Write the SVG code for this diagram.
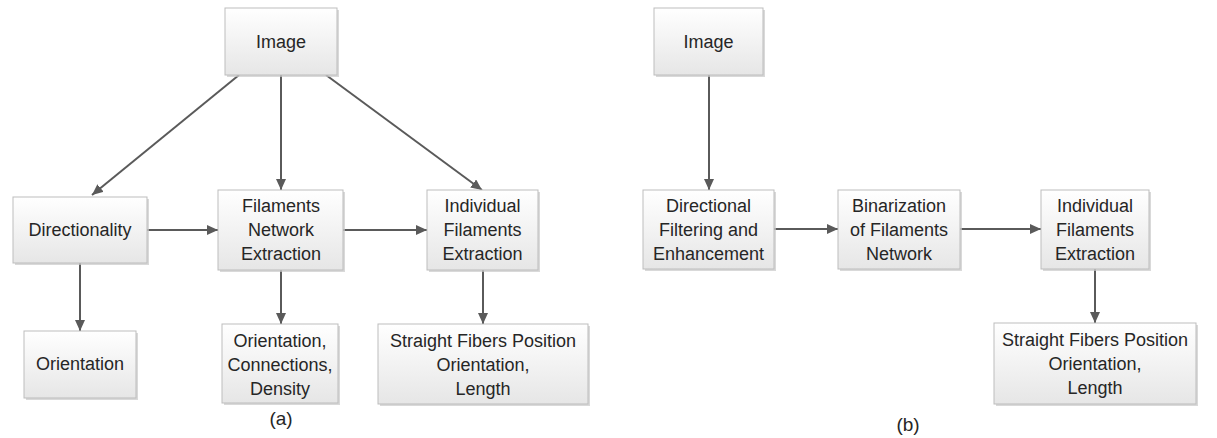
<svg xmlns="http://www.w3.org/2000/svg" width="1217" height="438" viewBox="0 0 1217 438">
<style>
.box{fill:url(#g);stroke:#bdbdbd;stroke-width:1}
.sh{fill:#c9c9c9;opacity:0.7}
.t{font-family:"Liberation Sans",Arial,sans-serif;font-size:18px;fill:#262626;text-anchor:middle}
.lbl{font-family:"Liberation Sans",Arial,sans-serif;font-size:19px;fill:#262626;text-anchor:middle}
.c{stroke:#5a5a5a;stroke-width:2;fill:none;marker-end:url(#ah)}
</style>
<defs>
<linearGradient id="g" x1="0" y1="0" x2="0" y2="1">
<stop offset="0" stop-color="#ffffff"/>
<stop offset="1" stop-color="#e6e6e6"/>
</linearGradient>
<marker id="ah" markerUnits="userSpaceOnUse" markerWidth="12" markerHeight="10" refX="11" refY="5" orient="auto">
<path d="M0,0 L11,5 L0,10 z" fill="#5a5a5a"/>
</marker>
</defs>
<rect width="1217" height="438" fill="#ffffff"/>
<g id="connectors">
<line class="c" x1="239" y1="75" x2="92" y2="195"/>
<line class="c" x1="281" y1="75" x2="281" y2="190"/>
<line class="c" x1="326" y1="75" x2="482" y2="190"/>
<line class="c" x1="147" y1="230" x2="218" y2="230"/>
<line class="c" x1="343" y1="230" x2="427" y2="230"/>
<line class="c" x1="80" y1="263" x2="80" y2="331"/>
<line class="c" x1="281" y1="270" x2="281" y2="324"/>
<line class="c" x1="483" y1="270" x2="483" y2="324"/>
<line class="c" x1="709" y1="75" x2="709" y2="190"/>
<line class="c" x1="774" y1="229" x2="838" y2="229"/>
<line class="c" x1="960" y1="229" x2="1041" y2="229"/>
<line class="c" x1="1095" y1="269" x2="1095" y2="323"/>
</g>
<g id="a-image">
<rect class="sh" x="227" y="10" width="112" height="67"/>
<rect class="box" x="225" y="8" width="112" height="67"/>
<text class="t" x="281" y="48">Image</text>
</g>
<g id="a-directionality">
<rect class="sh" x="15" y="199" width="134" height="66"/>
<rect class="box" x="13" y="197" width="134" height="66"/>
<text class="t" x="80" y="236">Directionality</text>
</g>
<g id="a-filaments">
<rect class="sh" x="220" y="192" width="125" height="80"/>
<rect class="box" x="218" y="190" width="125" height="80"/>
<text class="t" x="281" y="212">Filaments</text>
<text class="t" x="281" y="236">Network</text>
<text class="t" x="281" y="260">Extraction</text>
</g>
<g id="a-individual">
<rect class="sh" x="429" y="192" width="111" height="80"/>
<rect class="box" x="427" y="190" width="111" height="80"/>
<text class="t" x="482.5" y="212">Individual</text>
<text class="t" x="482.5" y="236">Filaments</text>
<text class="t" x="482.5" y="260">Extraction</text>
</g>
<g id="a-orientation">
<rect class="sh" x="26" y="333" width="112" height="67"/>
<rect class="box" x="24" y="331" width="112" height="67"/>
<text class="t" x="80" y="370">Orientation</text>
</g>
<g id="a-ocd">
<rect class="sh" x="224" y="326" width="116" height="79"/>
<rect class="box" x="222" y="324" width="116" height="79"/>
<text class="t" x="280" y="347">Orientation,</text>
<text class="t" x="280" y="371">Connections,</text>
<text class="t" x="280" y="395">Density</text>
</g>
<g id="a-straight">
<rect class="sh" x="380" y="326" width="210" height="80"/>
<rect class="box" x="378" y="324" width="210" height="80"/>
<text class="t" x="483" y="347">Straight Fibers Position</text>
<text class="t" x="483" y="371">Orientation,</text>
<text class="t" x="483" y="395">Length</text>
</g>
<text class="lbl" x="281" y="425">(a)</text>
<g id="b-image">
<rect class="sh" x="656" y="10" width="109" height="67"/>
<rect class="box" x="654" y="8" width="109" height="67"/>
<text class="t" x="708.5" y="48">Image</text>
</g>
<g id="b-directional">
<rect class="sh" x="645" y="192" width="131" height="79"/>
<rect class="box" x="643" y="190" width="131" height="79"/>
<text class="t" x="708.5" y="212">Directional</text>
<text class="t" x="708.5" y="236">Filtering and</text>
<text class="t" x="708.5" y="260">Enhancement</text>
</g>
<g id="b-binarization">
<rect class="sh" x="840" y="192" width="122" height="79"/>
<rect class="box" x="838" y="190" width="122" height="79"/>
<text class="t" x="899" y="212">Binarization</text>
<text class="t" x="899" y="236">of Filaments</text>
<text class="t" x="899" y="260">Network</text>
</g>
<g id="b-individual">
<rect class="sh" x="1043" y="192" width="108" height="79"/>
<rect class="box" x="1041" y="190" width="108" height="79"/>
<text class="t" x="1095" y="212">Individual</text>
<text class="t" x="1095" y="236">Filaments</text>
<text class="t" x="1095" y="260">Extraction</text>
</g>
<g id="b-straight">
<rect class="sh" x="996" y="325" width="202" height="81"/>
<rect class="box" x="994" y="323" width="202" height="81"/>
<text class="t" x="1095" y="346">Straight Fibers Position</text>
<text class="t" x="1095" y="370">Orientation,</text>
<text class="t" x="1095" y="394">Length</text>
</g>
<text class="lbl" x="908" y="431">(b)</text>
</svg>
